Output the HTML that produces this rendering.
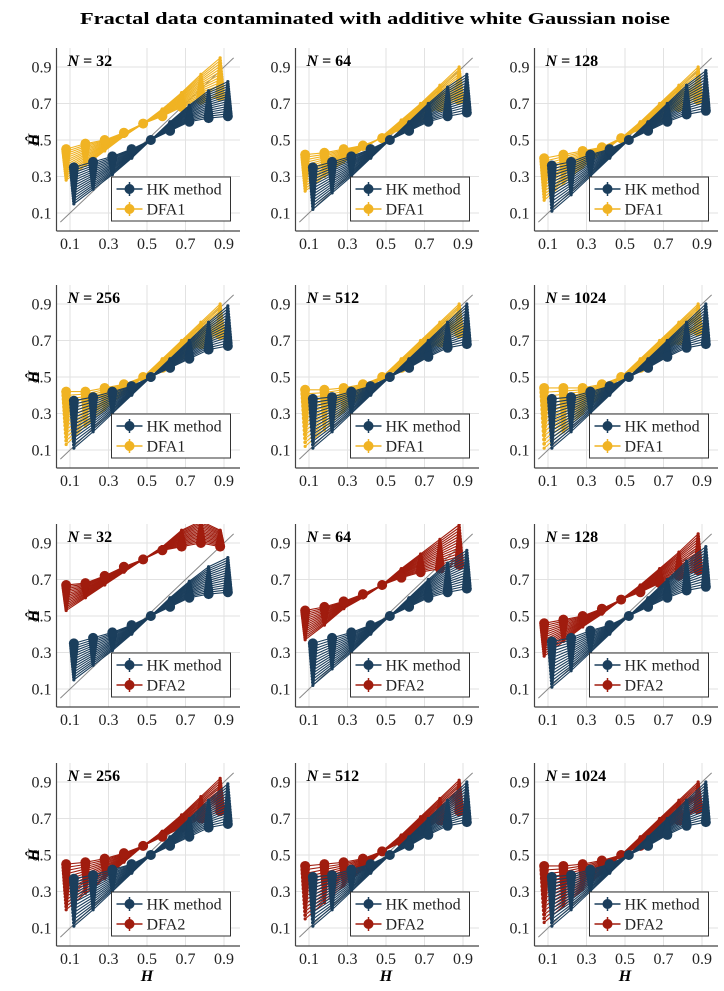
<!DOCTYPE html>
<html><head><meta charset="utf-8"><style>
body{margin:0;background:#fff}
svg{display:block;font-family:"Liberation Serif",serif}
</style></head><body>
<svg id="fig" width="724" height="991" viewBox="0 0 724 991" xmlns="http://www.w3.org/2000/svg">
<text x="375" y="24" text-anchor="middle" font-size="16.5" font-weight="bold" textLength="590" lengthAdjust="spacingAndGlyphs">Fractal data contaminated with additive white Gaussian noise</text>
</svg>
<script>
const Hvals=[0.1,0.2,0.3,0.4,0.5,0.6,0.7,0.8,0.9];
const Nlabels=["32","64","128","256","512","1024"];
const yTicks=[0.1,0.3,0.5,0.7,0.9];
const xTicks=[0.1,0.3,0.5,0.7,0.9];
const hkLo=[[.35,.38,.41,.45,.50,.55,.60,.62,.63],[.35,.38,.41,.45,.50,.55,.60,.63,.65],[.36,.38,.42,.45,.50,.55,.60,.64,.66],[.37,.39,.42,.45,.50,.55,.60,.65,.67],[.38,.39,.42,.45,.50,.55,.61,.66,.68],[.38,.39,.42,.45,.50,.55,.61,.66,.68]];
const hkHi=[[.15,.23,.31,.40,.50,.60,.69,.77,.82],[.12,.21,.30,.40,.50,.60,.70,.79,.86],[.11,.20,.30,.40,.50,.60,.70,.80,.88],[.11,.20,.30,.40,.50,.60,.70,.80,.89],[.11,.20,.30,.40,.50,.60,.70,.80,.90],[.11,.20,.30,.40,.50,.60,.70,.80,.90]];
const dfa1Lo=[[.45,.48,.50,.54,.59,.63,.68,.72,.74],[.42,.43,.45,.47,.51,.56,.62,.68,.72],[.40,.42,.44,.46,.51,.56,.62,.68,.72],[.42,.42,.44,.46,.50,.55,.62,.68,.73],[.43,.43,.44,.46,.50,.55,.62,.69,.74],[.44,.44,.44,.46,.50,.55,.62,.70,.75]];
const dfa1Hi=[[.28,.36,.44,.52,.59,.67,.76,.86,.95],[.22,.30,.38,.45,.52,.61,.70,.80,.90],[.17,.26,.35,.43,.51,.60,.70,.80,.90],[.13,.23,.32,.41,.50,.60,.70,.80,.90],[.12,.21,.31,.40,.50,.60,.70,.80,.90],[.11,.20,.30,.40,.50,.60,.70,.80,.90]];
const dfa2Lo=[[.67,.68,.72,.77,.81,.86,.88,.90,.88],[.53,.55,.58,.62,.67,.71,.74,.76,.78],[.46,.48,.50,.54,.59,.63,.68,.72,.75],[.45,.46,.48,.51,.55,.60,.65,.70,.74],[.44,.45,.46,.48,.52,.57,.63,.69,.74],[.44,.44,.45,.47,.50,.55,.62,.69,.75]];
const dfa2Hi=[[.53,.60,.67,.74,.81,.88,.97,1.02,.97],[.37,.45,.54,.60,.67,.76,.84,.92,1.0],[.28,.36,.44,.51,.59,.67,.76,.85,.95],[.20,.29,.37,.46,.55,.63,.72,.82,.92],[.15,.24,.33,.42,.52,.61,.71,.81,.91],[.13,.22,.31,.40,.50,.60,.70,.80,.90]];

const NS="http://www.w3.org/2000/svg";
const svg=document.getElementById('fig');
function mk(tag,attrs,parent){const e=document.createElementNS(NS,tag);for(const k in attrs)e.setAttribute(k,attrs[k]);(parent||svg).appendChild(e);return e;}
const colX01=[70,309,548];
const rowY09=[67,304,543,782];
const NAVY="#1b3e5c",YEL="#f0b323",RED="#a01c0e";
const NL=15;

for(let r=0;r<4;r++)for(let c=0;c<3;c++){
  const ni=(r%2)*3+c;
  const dfa=r<2?1:2;
  const dLo=dfa===1?dfa1Lo[ni]:dfa2Lo[ni], dHi=dfa===1?dfa1Hi[ni]:dfa2Hi[ni];
  const dCol=dfa===1?YEL:RED;
  const x01=colX01[c], y09=rowY09[r];
  const sx=v=>x01+(v-0.1)*192.5;
  const sy=v=>y09+(0.9-v)*182.5;
  const L=x01-13.5,R=x01+170,T=y09-19,B=y09+164;
  const g=mk('g',{});
  
  
  const cp='cp'+r+c;
  const cl=mk('clipPath',{id:cp},g);mk('rect',{x:L,y:T,width:R-L,height:B-T},cl);
  yTicks.forEach(v=>{const l=mk('line',{x1:L,x2:R,y1:sy(v),y2:sy(v),stroke:'#e2e2e2','stroke-width':1},g);
    const t=mk('text',{x:L-5,y:sy(v)+5.5,'text-anchor':'end','font-size':16,fill:'#222'},g);t.textContent=v.toFixed(1);});
  xTicks.forEach(v=>{const l=mk('line',{y1:T,y2:B,x1:sx(v),x2:sx(v),stroke:'#e2e2e2','stroke-width':1},g);
    const t=mk('text',{x:sx(v),y:B+18,'text-anchor':'middle','font-size':16,fill:'#222'},g);t.textContent=v.toFixed(1);});
  const pg=mk('g',{'clip-path':'url(#'+cp+')'},g);
  const diag=mk('line',{x1:sx(0.05),y1:sy(0.05),x2:sx(0.95),y2:sy(0.95),stroke:'#888','stroke-width':1},pg);
  
  function fam(lo,hi,col,off,name){
    for(let k=0;k<NL;k++){
      const t=k/(NL-1);
      const vals=hi.map((h,i)=>h+t*(lo[i]-h));
      const pts=vals.map((v,i)=>sx(Hvals[i]+off)+','+sy(v)).join(' ');
      const pl=mk('polyline',{points:pts,fill:'none',stroke:col,'stroke-width':1.1},pg);
      
      const rad=1.6+3.4*t;
      vals.forEach((v,i)=>{const ci=mk('circle',{cx:sx(Hvals[i]+off),cy:sy(v),r:rad,fill:col},pg);
        });
    }
  }
  fam(dLo,dHi,dCol,-0.02,dfa===1?'dfa1':'dfa2');
  fam(hkLo[ni],hkHi[ni],NAVY,0.02,'hk');
  mk('line',{x1:L,y1:T,x2:L,y2:B,stroke:'#444','stroke-width':1.2},g);
  mk('line',{x1:L,y1:B,x2:R,y2:B,stroke:'#444','stroke-width':1.2},g);
  const lab=mk('text',{x:L+11,y:T+18,'font-size':16,'font-weight':'bold'},g);
  
  lab.innerHTML='<tspan font-style="italic">N</tspan> = '+Nlabels[ni];
  const lg=mk('g',{},g);
  const lx=L+55,ly=y09+110;
  mk('rect',{x:lx,y:ly,width:119,height:44,fill:'#fff',stroke:'#333','stroke-width':1},lg);
  [[NAVY,'HK method'],[dCol,'DFA'+dfa]].forEach((e,i)=>{
    const yy=ly+12+i*20;
    const en=mk('g',{},lg);
    mk('line',{x1:lx+5,x2:lx+31,y1:yy,y2:yy,stroke:e[0],'stroke-width':1.5},en);
    mk('line',{x1:lx+18,x2:lx+18,y1:yy-7,y2:yy+7,stroke:e[0],'stroke-width':1.5},en);
    mk('circle',{cx:lx+18,cy:yy,r:5,fill:e[0]},en);
    const t=mk('text',{x:lx+35,y:yy+5.5,'font-size':16,fill:'#222'},en);t.textContent=e[1];
  });
  if(c===0){const yl=mk('text',{x:34,y:sy(0.5)+5,'font-size':16,'font-weight':'bold','font-style':'italic','text-anchor':'middle',transform:'rotate(-90 34 '+(sy(0.5))+')'},g);
    yl.textContent='Ĥ';}
  if(r===3){const xl=mk('text',{x:sx(0.5),y:B+35,'font-size':16,'font-weight':'bold','font-style':'italic','text-anchor':'middle'},g);
    xl.textContent='H';}
}
</script>
</body></html>
